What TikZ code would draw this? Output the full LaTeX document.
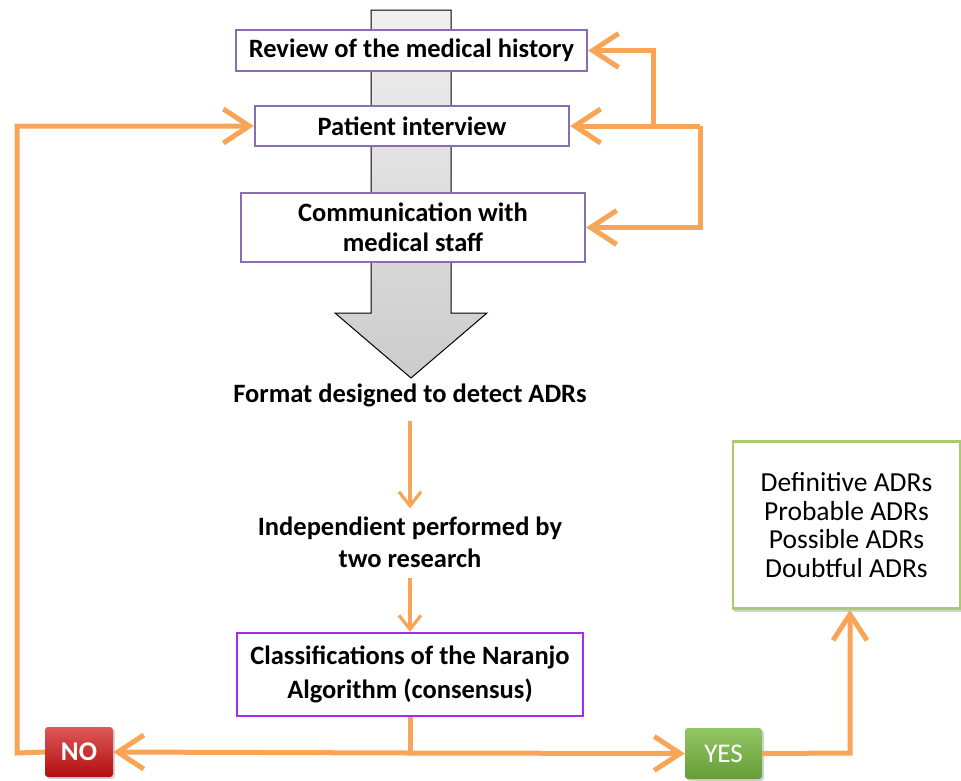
\documentclass[tikz,border=0pt]{standalone}
\usepackage{fontspec}
\setmainfont{Carlito}
\usetikzlibrary{arrows.meta,shadows}
\definecolor{orng}{HTML}{F8A558}
\definecolor{purp}{HTML}{8A6CB0}
\definecolor{brpurp}{HTML}{A52BF0}
\definecolor{grn}{HTML}{A6CC72}
\definecolor{nored}{HTML}{D01010}
\definecolor{yesgrn}{HTML}{78B840}
\tikzset{
  box/.style={draw=purp, line width=2.2pt, fill=white, font=\bfseries\fontsize{26.5}{30}\selectfont, align=center, inner sep=0pt},
  plain/.style={font=\bfseries\fontsize{26.5}{32}\selectfont, align=center, inner sep=0pt},
  arr/.style={draw=orng, line width=5pt, -{Straight Barb[length=26pt,width=34pt]}},
  ln/.style={draw=orng, line width=5pt},
  sarr/.style={draw=orng, line width=3.2pt, -{Straight Barb[length=14pt,width=22pt]}},
  tag/.style={rounded corners=3pt, text=white, font=\bfseries\fontsize{27}{30}\selectfont, inner sep=0pt, drop shadow={opacity=0.35, shadow xshift=2pt, shadow yshift=-2pt}},
}
\begin{document}
\begin{tikzpicture}[x=1pt,y=-1pt]
\useasboundingbox (0,0) rectangle (961,780);
% big gray arrow
\path[top color=gray!12, bottom color=gray!40, draw=black, line width=1pt]
  (371,10) -- (451,10) -- (451,313) -- (487,313) -- (411,378) -- (335,313) -- (371,313) -- cycle;
% boxes
\node[box, minimum width=351pt, minimum height=41pt] (rev) at (411.5,50.5) {Review of the medical history};
\node[box, minimum width=314pt, minimum height=40pt] (pi) at (412,126) {Patient interview};
\node[box, minimum width=344pt, minimum height=69pt] (com) at (413,227.5) {Communication with\\medical staff};
\node[plain] (fmt) at (410,395) {Format designed to detect ADRs};
\node[plain] (ind) at (410,542) {Independient performed by\\two research};
\node[box, draw=brpurp, minimum width=346pt, minimum height=83pt, font=\bfseries\fontsize{26.5}{34}\selectfont] (nar) at (410,674.5) {Classifications of the Naranjo\\Algorithm (consensus)};
\node[draw=grn, line width=2.5pt, fill=white, minimum width=227pt, minimum height=167pt, align=center, inner sep=0pt, font=\fontsize{27.5}{28.5}\selectfont, drop shadow={opacity=0.3, shadow xshift=1pt, shadow yshift=-3pt, fill=grn!60!black}] (adr) at (846.5,525) {Definitive ADRs\\Probable ADRs\\Possible ADRs\\Doubtful ADRs};
\node[tag, top color=nored!70!white, bottom color=nored!85!black, minimum width=68pt, minimum height=50pt] (no) at (79,752) {NO};
\node[tag, top color=yesgrn!80!white, bottom color=yesgrn!85!black, minimum width=77pt, minimum height=51pt, font=\fontsize{27}{30}\selectfont] (yes) at (723.5,753.5) {YES};
% feedback connectors on the right
\coordinate (r1) at (653,126);
\coordinate (r2) at (700,126);
\draw[arr] (r1) |- (rev.east);
\draw[arr] (r2) -- (pi.east);
\draw[arr] (r2) |- (com.east);
% small arrows
\draw[sarr, shorten <=14pt, shorten >=8pt] (fmt.south) -- (ind.north);
\draw[sarr, shorten <=10pt] (ind.south) -- (nar.north);
% bottom
\coordinate (split) at (410,753);
\coordinate (lb) at (17,753);
\coordinate (lt) at (17,126);
\draw[ln] (nar.south) -- (split);
\draw[arr] (split) -- (no.east);
\draw[arr] (split) -- (yes.west);
\draw[arr] (no.west) -- (lb) -- (lt) -- (pi.west);
\coordinate (yr) at (850,753);
\draw[arr] (yes.east) -- (yr) -- (yr |- adr.south);
\end{tikzpicture}
\end{document}
